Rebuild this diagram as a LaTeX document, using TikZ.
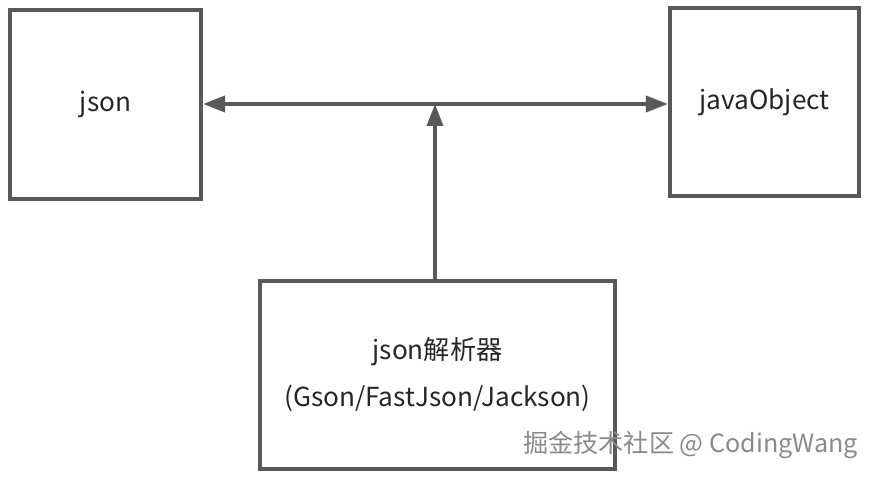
\documentclass[tikz,border=0pt]{standalone}
\usepackage{fontspec}
\setmainfont{Noto Sans CJK SC}
\usetikzlibrary{arrows.meta}
\definecolor{linegray}{HTML}{595959}
\definecolor{markgray}{HTML}{8A8A8A}
\pgfdeclarelayer{bg}
\pgfsetlayers{bg,main}

\begin{document}
\begin{tikzpicture}[>={Triangle[length=0.44cm, width=0.32cm]},
    box/.style={draw=linegray, line width=2.3pt, inner sep=0pt, align=center,
        text=black!85, font=\fontsize{14.9}{26.7}\selectfont},
    link/.style={draw=linegray, line width=2pt}]
    \useasboundingbox (0cm, 0cm) rectangle (17.48cm, -9.56cm);

    \node (json) [box, minimum width=3.82cm, minimum height=3.78cm] at (2.11cm, -2.09cm) {json};
    \node (obj) [box, minimum width=3.78cm, minimum height=3.76cm] at (15.29cm, -2.04cm) {javaObject};
    \node (parser) [box, minimum width=7.10cm, minimum height=3.76cm] at (8.75cm, -7.50cm)
        {json解析器\\(Gson/FastJson/Jackson)};
    \coordinate (hub) at (8.70cm, -2.08cm);

    \node (mark) [anchor=east, text=markgray, font=\fontsize{14.3}{16}\selectfont]
        at (17.28cm, -8.90cm) {掘金技术社区 @ CodingWang};

    \begin{pgfonlayer}{bg}
        \draw (json.east |- hub) edge[link, <->] (obj.west |- hub);
        \draw (hub |- parser.north) edge[link, ->] (hub);
    \end{pgfonlayer}
\end{tikzpicture}
\end{document}
